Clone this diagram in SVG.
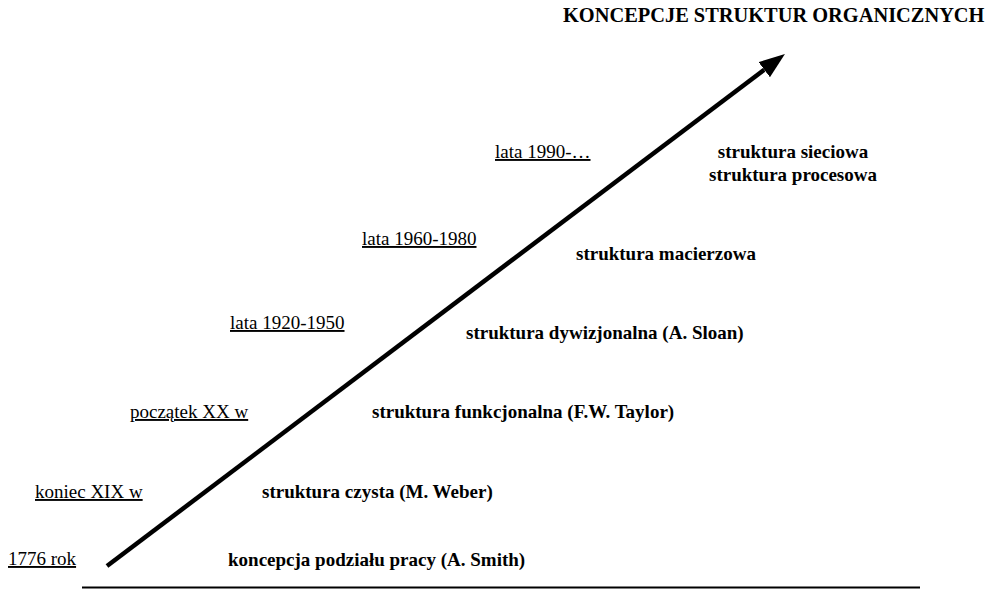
<svg xmlns="http://www.w3.org/2000/svg" width="991" height="589" viewBox="0 0 991 589">
<defs>
<style>
text{font-family:"Liberation Serif","Times New Roman",serif;fill:#000}
.era{font-size:19px;text-decoration:underline}
.lab{font-size:19px;font-weight:bold}
.title{font-size:20.4px;font-weight:bold}
.ln{stroke:#000;fill:none}
</style>
<marker id="ah" markerUnits="userSpaceOnUse" markerWidth="30" markerHeight="24" refX="0" refY="9.5" orient="auto">
<polygon points="0,0 26,9.5 0,19" fill="#000"/>
</marker>
</defs>
<rect width="991" height="589" fill="#fff"/>
<g id="title"><text class="title" x="563" y="22">KONCEPCJE STRUKTUR ORGANICZNYCH</text></g>
<g id="connectors">
<line class="ln" x1="107" y1="566" x2="764.2" y2="69.7" stroke-width="4.5" marker-end="url(#ah)"/>
<line class="ln" x1="82" y1="587.5" x2="920" y2="587.5" stroke-width="2"/>
</g>
<g id="era-1776"><text class="era" x="8" y="565">1776 rok</text></g>
<g id="era-xix"><text class="era" x="35" y="498">koniec XIX w</text></g>
<g id="era-xx"><text class="era" x="130" y="418">początek XX w</text></g>
<g id="era-1920"><text class="era" x="230" y="329">lata 1920-1950</text></g>
<g id="era-1960"><text class="era" x="362" y="245">lata 1960-1980</text></g>
<g id="era-1990"><text class="era" x="495" y="158">lata 1990-…</text></g>
<g id="smith"><text class="lab" x="228" y="566">koncepcja podziału pracy (A. Smith)</text></g>
<g id="weber"><text class="lab" x="262" y="498">struktura czysta (M. Weber)</text></g>
<g id="taylor"><text class="lab" x="372" y="418">struktura funkcjonalna (F.W. Taylor)</text></g>
<g id="sloan"><text class="lab" x="466" y="339">struktura dywizjonalna (A. Sloan)</text></g>
<g id="macierz"><text class="lab" x="576" y="260">struktura macierzowa</text></g>
<g id="siec"><text class="lab" text-anchor="middle" x="793" y="158">struktura sieciowa</text><text class="lab" text-anchor="middle" x="793" y="181">struktura procesowa</text></g>
</svg>
